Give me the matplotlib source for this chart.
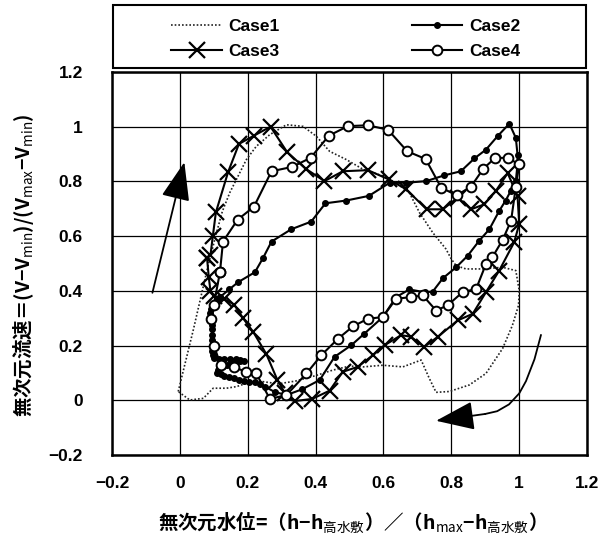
import matplotlib
matplotlib.use('Agg')
import matplotlib.pyplot as plt
from matplotlib.patches import Rectangle

plt.rcParams['font.family'] = ['Liberation Sans', 'Noto Sans CJK JP', 'DejaVu Sans']
plt.rcParams['mathtext.fontset'] = 'custom'
plt.rcParams['mathtext.rm'] = 'Noto Sans CJK JP'
plt.rcParams['mathtext.it'] = 'Noto Sans CJK JP'
plt.rcParams['mathtext.bf'] = 'Noto Sans CJK JP:bold'

# Case1 (点線)
x1 = [-0.005, 0.04, 0.083, 0.108, 0.125, 0.147, 0.196, 0.225, 0.265, 0.314, 0.363, 0.402,
      0.441, 0.49, 0.54, 0.598, 0.637, 0.676, 0.706, 0.745, 0.784, 0.8, 0.814, 0.843, 0.892,
      0.951, 0.99, 1.0, 0.998, 0.98, 0.951, 0.902, 0.853, 0.794, 0.755, 0.735, 0.711, 0.657,
      0.598, 0.54, 0.5, 0.45, 0.4, 0.34, 0.29, 0.245, 0.196, 0.167, 0.137, 0.098, 0.069,
      0.029, -0.005]
y1 = [0.032, 0.26, 0.492, 0.613, 0.69, 0.759, 0.88, 0.928, 0.971, 1.007, 1.001, 0.965,
      0.91, 0.88, 0.844, 0.82, 0.795, 0.759, 0.686, 0.613, 0.553, 0.516, 0.492, 0.48, 0.48,
      0.486, 0.474, 0.401, 0.347, 0.274, 0.189, 0.098, 0.056, 0.032, 0.029, 0.08, 0.147, 0.122,
      0.128, 0.122, 0.125, 0.11, 0.09, 0.07, 0.06, 0.068, 0.062, 0.05, 0.044, 0.044, 0.007,
      0.001, 0.032]

# Case2 (小黒丸)  左下は点が密集して太線に見える
x2 = [0.118, 0.145, 0.172, 0.221, 0.245, 0.27, 0.328, 0.387, 0.429, 0.49, 0.557, 0.618,
      0.667, 0.726, 0.779, 0.828, 0.868, 0.902, 0.936, 0.971, 0.99, 0.995, 0.995, 0.99,
      0.975, 0.96, 0.941, 0.912, 0.882, 0.848, 0.814, 0.775, 0.745, 0.721, 0.676, 0.637,
      0.598, 0.544, 0.505, 0.456, 0.412, 0.36, 0.314, 0.28, 0.25, 0.235, 0.22, 0.205, 0.19,
      0.175, 0.16, 0.145, 0.13, 0.12, 0.11, 0.112, 0.115, 0.128, 0.14, 0.152, 0.165, 0.178,
      0.19, 0.178, 0.165, 0.148, 0.13, 0.115, 0.1, 0.097, 0.095, 0.095, 0.095, 0.095, 0.095,
      0.095, 0.093, 0.09, 0.093, 0.1, 0.108, 0.118]
y2 = [0.377, 0.405, 0.432, 0.468, 0.52, 0.58, 0.625, 0.653, 0.72, 0.73, 0.747, 0.795,
      0.795, 0.801, 0.822, 0.837, 0.884, 0.916, 0.965, 1.011, 0.959, 0.898, 0.862, 0.801,
      0.765, 0.73, 0.692, 0.625, 0.583, 0.528, 0.486, 0.446, 0.397, 0.395, 0.405, 0.377,
      0.304, 0.244, 0.201, 0.159, 0.074, 0.04, 0.019, 0.03, 0.05, 0.058, 0.065, 0.068, 0.07,
      0.075, 0.08, 0.085, 0.09, 0.095, 0.1, 0.11, 0.12, 0.125, 0.13, 0.135, 0.14, 0.142,
      0.145, 0.148, 0.15, 0.15, 0.15, 0.152, 0.155, 0.165, 0.18, 0.2, 0.22, 0.24, 0.26,
      0.275, 0.29, 0.32, 0.335, 0.35, 0.365, 0.377]

# Case3 (×印)
x3 = [0.08, 0.09, 0.097, 0.106, 0.142, 0.174, 0.218, 0.267, 0.316, 0.371, 0.426, 0.48,
      0.554, 0.616, 0.667, 0.727, 0.775, 0.819, 0.858, 0.897, 0.931, 0.966, 0.995, 1.0,
      0.985, 0.941, 0.902, 0.863, 0.819, 0.76, 0.72, 0.681, 0.652, 0.603, 0.569, 0.524,
      0.48, 0.441, 0.39, 0.338, 0.31, 0.287, 0.255, 0.216, 0.186, 0.16, 0.13, 0.1, 0.09,
      0.085, 0.08]
y3 = [0.52, 0.53, 0.6, 0.687, 0.834, 0.937, 0.967, 1.0, 0.907, 0.846, 0.801, 0.837,
      0.841, 0.807, 0.771, 0.698, 0.698, 0.741, 0.698, 0.716, 0.765, 0.83, 0.747, 0.644,
      0.577, 0.474, 0.395, 0.316, 0.292, 0.232, 0.195, 0.232, 0.238, 0.201, 0.165, 0.122,
      0.104, 0.035, 0.005, -0.003, 0.025, 0.075, 0.168, 0.25, 0.3, 0.35, 0.37, 0.38, 0.4,
      0.45, 0.52]

# Case4 (白丸)
x4 = [0.118, 0.127, 0.17, 0.218, 0.27, 0.331, 0.385, 0.439, 0.495, 0.554, 0.613, 0.67,
      0.724, 0.77, 0.816, 0.858, 0.894, 0.929, 0.966, 1.0, 0.99, 0.976, 0.951, 0.921, 0.902,
      0.873, 0.833, 0.789, 0.755, 0.716, 0.681, 0.637, 0.598, 0.554, 0.51, 0.466, 0.417,
      0.373, 0.314, 0.265, 0.225, 0.196, 0.16, 0.12, 0.1, 0.093, 0.1, 0.118]
y4 = [0.468, 0.58, 0.66, 0.707, 0.837, 0.853, 0.886, 0.967, 1.002, 1.005, 0.989, 0.91,
      0.882, 0.777, 0.749, 0.781, 0.846, 0.886, 0.886, 0.862, 0.78, 0.656, 0.586, 0.523, 0.498,
      0.407, 0.395, 0.347, 0.328, 0.383, 0.377, 0.371, 0.304, 0.298, 0.27, 0.225, 0.165,
      0.098, 0.019, 0.005, 0.098, 0.104, 0.12, 0.13, 0.2, 0.298, 0.35, 0.468]

ticks = [-0.2, 0, 0.2, 0.4, 0.6, 0.8, 1, 1.2]
tick_labels = ['−0.2', '0', '0.2', '0.4', '0.6', '0.8', '1', '1.2']

# 矢印
arrow_up = [(-0.083, 0.383), (0.015, 0.88)]
arrow_curve_x = [1.064, 1.045, 1.02, 1.0, 0.97, 0.935, 0.9]
arrow_curve_y = [0.238, 0.15, 0.07, 0.025, -0.015, -0.04, -0.05]
arrow_head = [(0.9, -0.05), (0.755, -0.075)]

fig = plt.figure(figsize=(6.09, 5.41), dpi=100)
ax = fig.add_axes([0.184, 0.159, 0.78, 0.708])

ax.plot(x1, y1, linestyle=(0, (1, 1.2)), color='#222222', lw=1.2, label='Case1')
ax.plot(x2, y2, '-', color='black', lw=1.5, marker='o', ms=4, label='Case2')
ax.plot(x3, y3, '-', color='black', lw=1.5, marker='x', ms=11, mew=1.6, label='Case3')
ax.plot(x4, y4, '-', color='black', lw=1.5, marker='o', ms=7, mfc='white', mew=1.4, label='Case4')

ax.annotate('', xy=arrow_up[1], xytext=arrow_up[0],
            arrowprops=dict(arrowstyle='-|>,head_length=1.2,head_width=0.45', color='black', lw=1.3,
                            mutation_scale=20))
ax.plot(arrow_curve_x, arrow_curve_y, color='black', lw=1.3)
ax.annotate('', xy=arrow_head[1], xytext=arrow_head[0],
            arrowprops=dict(arrowstyle='-|>,head_length=1.2,head_width=0.45', color='black', lw=1.3,
                            mutation_scale=20, shrinkA=0, shrinkB=0))

ax.set_xlim(-0.2, 1.2)
ax.set_ylim(-0.2, 1.2)
ax.set_xticks(ticks)
ax.set_xticklabels(tick_labels)
ax.set_yticks(ticks)
ax.set_yticklabels(tick_labels)
ax.tick_params(length=0, labelsize=12.5)
ax.tick_params(axis='y', pad=21)
ax.tick_params(axis='x', pad=15)
for lab in ax.get_xticklabels() + ax.get_yticklabels():
    lab.set_fontweight('bold')
ax.grid(True, color='black', lw=0.9)
for sp in ax.spines.values():
    sp.set_linewidth(1.8)

# 凡例 (枠は別に描く)
h, l = ax.get_legend_handles_labels()
order = [0, 2, 1, 3]
leg = fig.legend([h[i] for i in order], [l[i] for i in order], ncol=2,
                 loc='center', bbox_to_anchor=(0.568, 0.928),
                 bbox_transform=fig.transFigure, frameon=False,
                 handlelength=2.9, handletextpad=0.4, columnspacing=7.6, numpoints=1,
                 prop={'size': 12.5, 'weight': 'bold'}, labelspacing=0.55)
fig.add_artist(Rectangle((0.1856, 0.8743), 0.7767, 0.1165, transform=fig.transFigure,
                         fill=False, edgecolor='black', lw=1.5))

fig.text(0.038, 0.51, '無次元流速＝(V−V$_{\\mathrm{min}}$)/(V$_{\\mathrm{max}}$−V$_{\\mathrm{min}}$)',
         rotation=90, ha='center', va='center', fontsize=14, fontweight='bold',
         family=['Noto Sans CJK JP', 'DejaVu Sans'])
fig.text(0.57, 0.035, '無次元水位=（h−h$_{\\mathrm{高水敷}}$）／（h$_{\\mathrm{max}}$−h$_{\\mathrm{高水敷}}$）',
         ha='center', va='center', fontsize=14, fontweight='bold',
         family=['Noto Sans CJK JP', 'DejaVu Sans'])

fig.savefig('out.png', dpi=100)
